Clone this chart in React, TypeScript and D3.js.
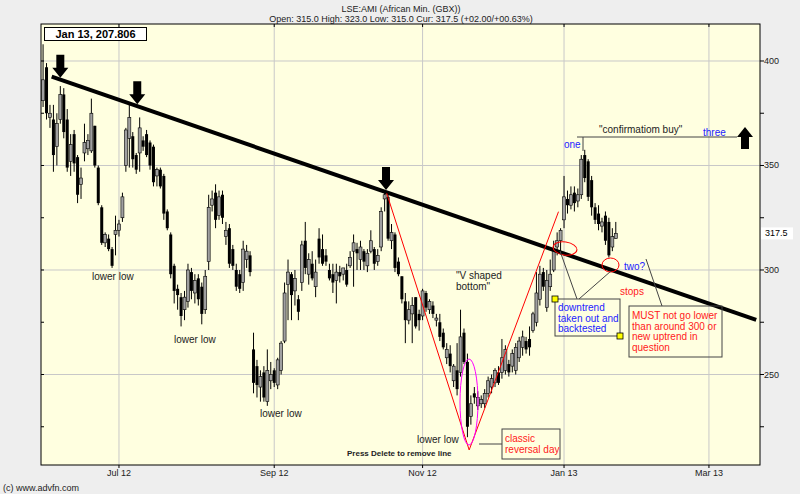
import React from "react";
import * as d3 from "d3";

const W = 800;
const H = 494;
const PLOT = { left: 41, top: 24, right: 760, bottom: 465 };

// [open, high, low, close] per trading day
const candles: [number, number, number, number][] = [
  [381, 408, 378, 391], [397, 399, 372, 375], [373, 379, 368, 375], [372, 379, 347, 355],
  [359, 375, 350, 370], [372, 388, 370, 384], [384, 387, 363, 366], [372, 377, 347, 349],
  [352, 365, 345, 360], [365, 367, 347, 351], [354, 355, 332, 336], [341, 349, 334, 344],
  [356, 370, 352, 361], [358, 365, 355, 362], [357, 382, 356, 375], [369, 369, 349, 350],
  [349, 350, 331, 332], [330, 331, 312, 313], [313, 318, 311, 317], [315, 317, 309, 310],
  [310, 311, 301, 302], [317, 326, 307, 319], [319, 324, 316, 322], [325, 337, 323, 335],
  [350, 368, 347, 367], [363, 379, 349, 373], [364, 366, 349, 353], [355, 356, 346, 348],
  [356, 373, 347, 368], [362, 364, 357, 359], [365, 367, 354, 355], [361, 362, 348, 350],
  [359, 360, 340, 342], [345, 349, 340, 348], [348, 349, 339, 340], [345, 346, 324, 327],
  [328, 329, 319, 320], [317, 318, 296, 298], [302, 303, 284, 290], [291, 293, 281, 288],
  [287, 289, 273, 278], [281, 290, 276, 287], [285, 303, 282, 300], [299, 301, 286, 290],
  [289, 298, 284, 295], [296, 298, 283, 286], [292, 294, 274, 279], [281, 300, 279, 297],
  [304, 336, 300, 330], [331, 338, 328, 334], [337, 341, 320, 324], [326, 338, 324, 335],
  [336, 338, 322, 325], [316, 323, 312, 319], [320, 322, 301, 303], [310, 312, 300, 302],
  [300, 303, 290, 292], [298, 300, 289, 291], [294, 314, 290, 310], [305, 312, 301, 309],
  [307, 309, 297, 299], [262, 270, 241, 246], [254, 257, 239, 245], [244, 252, 237, 249],
  [251, 254, 237, 239], [237, 262, 235, 252], [247, 256, 243, 250], [252, 253, 244, 246],
  [245, 258, 243, 257], [252, 266, 250, 265], [266, 294, 265, 289], [293, 305, 276, 299],
  [298, 299, 276, 288], [290, 300, 283, 296], [286, 288, 276, 280], [294, 314, 290, 312],
  [314, 323, 298, 301], [298, 308, 293, 305], [303, 309, 295, 296], [292, 305, 287, 299],
  [315, 320, 303, 306], [310, 317, 302, 303], [307, 310, 302, 304], [300, 303, 295, 296],
  [298, 303, 289, 294], [295, 303, 284, 299], [299, 302, 294, 297], [298, 301, 295, 301],
  [300, 303, 292, 293], [302, 309, 301, 306], [309, 317, 292, 313], [310, 313, 300, 308],
  [305, 314, 300, 311], [309, 310, 300, 304], [302, 310, 299, 308], [309, 319, 308, 314],
  [310, 311, 300, 303], [304, 310, 302, 307], [311, 330, 309, 328], [334, 337.5, 328, 336],
  [335, 337, 314, 315], [314, 322, 310, 318], [317, 318, 299, 301], [304, 306, 297, 298],
  [297, 297, 284, 286], [285, 289, 265, 276], [276, 285, 274, 281], [279, 287, 265, 283],
  [287, 287, 272, 273], [279, 281, 271, 276], [278, 291, 276, 290], [289, 290, 280, 282],
  [281, 286, 279, 285], [283, 285, 277, 279], [276, 279, 273, 277], [275, 279, 266, 268],
  [270, 272, 262, 263], [258, 265, 255, 262], [260, 264, 251, 254], [247, 255, 244, 254],
  [252, 265, 240, 243], [251, 281, 249, 268], [270, 272, 255, 256], [256, 260, 220, 225],
  [230, 240, 226, 236], [241, 244, 236, 239], [235, 242, 233, 239], [236, 240, 234, 238],
  [236, 243, 234, 241], [241, 249, 239, 247], [244, 250, 241, 248], [246, 253, 244, 252],
  [251, 254, 245, 246], [251, 267, 248, 258], [252, 264, 250, 262], [255, 257, 249, 251],
  [254, 262, 251, 260], [252, 265, 250, 263], [258, 268, 256, 266], [263, 271, 259, 268],
  [266, 268, 260, 262], [267, 273, 259, 263], [271, 280, 270, 279], [275, 299, 273, 289],
  [286, 302, 283, 298], [299, 301, 290, 292], [282, 300, 280, 295], [292, 305, 290, 298],
  [300, 314, 299, 310], [311, 318, 307, 314], [314, 320, 309, 319], [324, 345, 320, 335],
  [334, 338, 327, 331], [331, 340, 329, 336], [337, 340, 328, 332], [333, 339, 330, 336],
  [336, 355, 334, 353], [355, 357.5, 342, 344], [352, 353, 333, 335], [343, 345, 326, 330],
  [330, 332, 322, 324], [327, 331, 319, 322], [321, 325, 318, 323], [326, 328, 312, 314],
  [323, 325, 306, 307], [311, 320, 309, 316], [315, 323, 315, 317.5],
];

const xTickIndex = [22, 67, 110, 151, 193];
const xTickLabels = ["Jul 12", "Sep 12", "Nov 12", "Jan 13", "Mar 13"];
const yTickValues = [225, 250, 275, 300, 325, 350, 375, 400];
const yLabelValues = [250, 300, 350, 400];
const lastPrice = 317.5;

const trendLine: [number, number][] = [[2.5, 392.5], [206.7, 276.1]];
const vShape: [number, number][] = [[99.6, 336.7], [123.5, 213.9], [149.4, 327.9]];
const arrowIdx = [5, 27.3, 99.4];

const FONT = "Arial, 'Liberation Sans', Helvetica, sans-serif";

function downArrow(cx: number, tip: number) {
  return `M${cx - 4},${tip - 23} L${cx + 4},${tip - 23} L${cx + 4},${tip - 10} L${cx + 8},${tip - 10} L${cx},${tip} L${cx - 8},${tip - 10} L${cx - 4},${tip - 10} Z`;
}
function upArrow(cx: number, tip: number) {
  return `M${cx - 4},${tip + 22} L${cx + 4},${tip + 22} L${cx + 4},${tip + 10} L${cx + 8},${tip + 10} L${cx},${tip} L${cx - 8},${tip + 10} L${cx - 4},${tip + 10} Z`;
}

export default function App() {
  const x = d3.scaleLinear().domain([-0.6, 207.8]).range([PLOT.left, PLOT.right]);
  const y = d3.scaleLinear().domain([206.7, 417.7]).range([PLOT.bottom, PLOT.top]);
  const line = d3.line<[number, number]>().x((d) => x(d[0])).y((d) => y(d[1]));
  const trendAt = (i: number) => {
    const [[i0, p0], [i1, p1]] = trendLine;
    return p0 + ((p1 - p0) * (i - i0)) / (i1 - i0);
  };

  return (
    <svg width={W} height={H} style={{ position: "absolute", left: 0, top: 0 }} fontFamily={FONT}>
      <rect x={0} y={0} width={W} height={H} fill="#eeeeee" />
      <text x={401} y={12} fontSize={9} textAnchor="middle" fill="#222">LSE:AMI (African Min. (GBX))</text>
      <text x={401} y={22} fontSize={9} textAnchor="middle" fill="#222">Open: 315.0 High: 323.0 Low: 315.0 Cur: 317.5 (+02.00/+00.63%)</text>

      <rect x={PLOT.left} y={PLOT.top} width={PLOT.right - PLOT.left} height={PLOT.bottom - PLOT.top} fill="#ffffe0" />

      {xTickIndex.map((t, k) => (
        <line key={"gx" + k} x1={x(t)} x2={x(t)} y1={PLOT.top} y2={PLOT.bottom} stroke="#c8c8c8" />
      ))}
      {yLabelValues.map((v) => (
        <line key={"gy" + v} x1={PLOT.left} x2={PLOT.right} y1={y(v)} y2={y(v)} stroke="#c8c8c8" />
      ))}

      {candles.map((c, i) => {
        const [o, h, l, cl] = c;
        const cx = x(i);
        const up = cl >= o;
        const top = y(Math.max(o, cl));
        const bh = Math.max(1, Math.abs(y(o) - y(cl)));
        return (
          <g key={"c" + i}>
            <line x1={cx} x2={cx} y1={y(h)} y2={y(l)} stroke="#000" strokeWidth={1} />
            <rect x={cx - 1.5} y={top} width={3} height={bh} fill={up ? "#a0a0a0" : "#000"} stroke="#000" strokeWidth={up ? 0.6 : 0} />
          </g>
        );
      })}

      <rect x={PLOT.left} y={PLOT.top} width={PLOT.right - PLOT.left} height={PLOT.bottom - PLOT.top} fill="none" stroke="#000" strokeWidth={1} />

      {yTickValues.map((v) => (
        <g key={"yt" + v}>
          <line x1={PLOT.left} x2={PLOT.left + 3} y1={y(v)} y2={y(v)} stroke="#000" />
          <line x1={PLOT.right} x2={PLOT.right + 4} y1={y(v)} y2={y(v)} stroke="#000" />
        </g>
      ))}
      {yLabelValues.map((v) => (
        <text key={"yl" + v} x={764} y={y(v) + 3} fontSize={9} fill="#222">{v}</text>
      ))}
      {xTickIndex.map((t, k) => (
        <g key={"xt" + k}>
          <line x1={x(t)} x2={x(t)} y1={PLOT.bottom} y2={PLOT.bottom + 3} stroke="#000" />
          <line x1={x(t)} x2={x(t)} y1={PLOT.top} y2={PLOT.top + 3} stroke="#000" />
          <text x={x(t)} y={476} fontSize={9} textAnchor="middle" fill="#222">{xTickLabels[k]}</text>
        </g>
      ))}
      <rect x={761} y={y(lastPrice) - 6} width={32} height={12} fill="#fff" />
      <text x={765} y={y(lastPrice) + 3} fontSize={9} fill="#000">{lastPrice}</text>

      <path d={line(trendLine) || ""} stroke="#000" strokeWidth={4} fill="none" />
      {arrowIdx.map((a, k) => (
        <path key={"ar" + k} d={downArrow(x(a), y(trendAt(a)) - 2)} fill="#000" />
      ))}
      <path d={upArrow(745, 127)} fill="#000" />

      <path d={line(vShape) || ""} stroke="#ff0000" strokeWidth={1} fill="none" />
      <ellipse cx={469} cy={402} rx={9} ry={43} fill="none" stroke="#ff00ff" strokeWidth={1} />

      <ellipse cx={565} cy={248.5} rx={12} ry={6.5} fill="none" stroke="#ff0000" strokeWidth={1} transform="rotate(8 565 248.5)" />
      <ellipse cx={610.5} cy={265} rx={8.5} ry={7} fill="none" stroke="#ff0000" strokeWidth={1} />

      <g stroke="#444" strokeWidth={1} fill="none">
        <line x1={560} y1={251} x2={577} y2={299} />
        <line x1={611} y1={271} x2={579} y2={299} />
        <line x1={662} y1={306} x2={646} y2={259} />
        <line x1={479} y1={444} x2={502} y2={444} />
        <line x1={577} y1={137} x2={737} y2={137} />
        <line x1={583} y1={137} x2={583} y2={151} />
      </g>

      <rect x={555} y={299} width={65} height={37} fill="none" stroke="#444" />
      <rect x={552} y={296} width={6} height={6} fill="#ffff00" stroke="#000" strokeWidth={0.8} />
      <rect x={617} y={333} width={6} height={6} fill="#ffff00" stroke="#000" strokeWidth={0.8} />
      <rect x={629} y={306} width={93} height={51} fill="none" stroke="#444" />
      <rect x={502} y={429} width={58} height={30} fill="none" stroke="#444" />

      <g fontSize={10} fill="#2222ff">
        <text x={558} y={311}>downtrend</text>
        <text x={558} y={321.5}>taken out and</text>
        <text x={558} y={332}>backtested</text>
        <text x={564} y={148}>one</text>
        <text x={624} y={270}>two?</text>
        <text x={703} y={136}>three</text>
      </g>
      <g fontSize={10} fill="#ff2020">
        <text x={632} y={319}>MUST not go lower</text>
        <text x={632} y={329.5}>than around 300 or</text>
        <text x={632} y={340}>new uptrend in</text>
        <text x={632} y={350.5}>question</text>
        <text x={620} y={295}>stops</text>
        <text x={505} y={442}>classic</text>
        <text x={505} y={453}>reversal day</text>
      </g>
      <g fontSize={10} fill="#222">
        <text x={599} y={133}>"confirmatiom buy"</text>
        <text x={456} y={279}>"V shaped</text>
        <text x={456} y={290}>bottom"</text>
        <text x={92} y={280}>lower low</text>
        <text x={174} y={343}>lower low</text>
        <text x={260} y={417}>lower low</text>
        <text x={417} y={443}>lower low</text>
      </g>

      <text x={347} y={456} fontSize={8} fontWeight="bold" fill="#222">Press Delete to remove line</text>
      <text x={3} y={491} fontSize={9} fill="#222">(c) www.advfn.com</text>

      <rect x={44.5} y={27.5} width={102} height={13} fill="#fff" stroke="#000" />
      <text x={95.5} y={38} fontSize={11} fontWeight="bold" textAnchor="middle" fill="#000">Jan 13, 207.806</text>
    </svg>
  );
}
